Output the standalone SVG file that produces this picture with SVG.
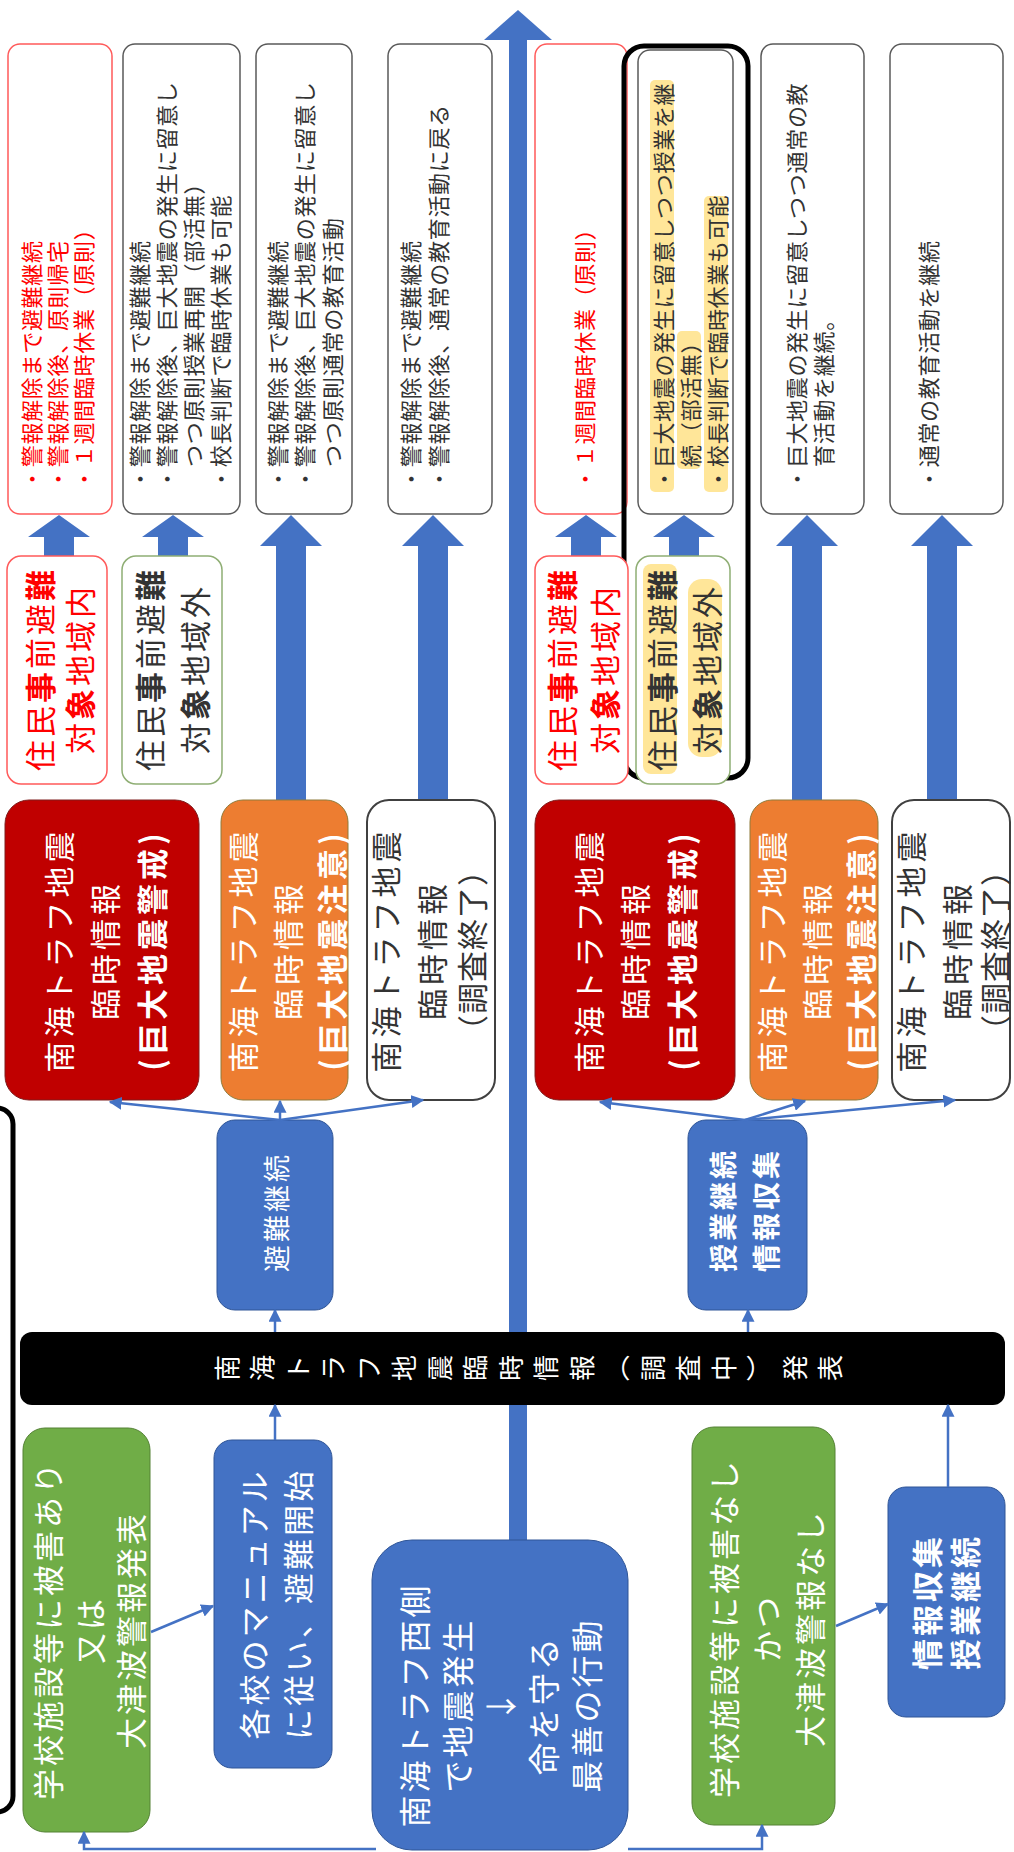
<svg xmlns="http://www.w3.org/2000/svg" width="1014" height="1852" viewBox="0 0 1014 1852">
<defs>
<style>
text { font-family: "Noto Sans CJK JP", "Noto Sans CJK SC", sans-serif; dominant-baseline: central; }
.s { font-size: 22px; letter-spacing: 0.7px; }
.m { font-size: 31px; letter-spacing: 3px; text-anchor: middle; }
.l { font-size: 31px; letter-spacing: 3px; text-anchor: middle; }
.l4 { font-size: 31px; letter-spacing: 4px; text-anchor: middle; }
.w { fill: #ffffff; }
.r { fill: #ff0000; }
.d { fill: #333333; }
.b { font-weight: bold; }
.box { fill: #ffffff; stroke: #595959; stroke-width: 1.5; }
.boxr { fill: #ffffff; stroke: #ff5a5a; stroke-width: 1.5; }
.boxg { fill: #ffffff; stroke: #8fae74; stroke-width: 1.5; }
.blue { fill: #4472c4; stroke: #2f5597; stroke-width: 1; }
.green { fill: #70ad47; stroke: #548235; stroke-width: 1; }
.red { fill: #c00000; stroke: #7f1d1d; stroke-width: 1; }
.orange { fill: #ed7d31; stroke: #8f7a3a; stroke-width: 1; }
.white { fill: #ffffff; stroke: #404040; stroke-width: 2; }
.barw { fill: #4472c4; }
.hl { fill: #ffe699; }
.con { fill: none; stroke: #4472c4; stroke-width: 2.5; marker-end: url(#ah); }
</style>
<marker id="ah" viewBox="0 0 10 10" refX="9" refY="5" markerWidth="13" markerHeight="13" markerUnits="userSpaceOnUse" orient="auto"><path d="M0,0 L10,5 L0,10 z" fill="#4472c4"/></marker>
</defs>
<rect width="1014" height="1852" fill="#ffffff"/>
<g transform="matrix(0,-1,1,0,0,1852)">

<!-- main arrow -->
<g id="main-arrow">
<rect x="312" y="509" width="1504" height="18" class="barw"/>
<polygon points="1812,484 1842,518 1812,552" class="barw"/>
</g>

<!-- top row result boxes -->
<g id="resA">
<rect x="1338" y="8" width="470" height="104" rx="12" class="boxr"/>
<text class="s r"><tspan x="1362" y="30">・警報解除まで避難継続</tspan><tspan x="1362" y="56">・警報解除後、原則帰宅</tspan><tspan x="1362" y="82">・１週間臨時休業（原則）</tspan></text>
</g>
<g id="resB">
<rect x="1338" y="123" width="470" height="117" rx="12" class="box"/>
<text class="s d"><tspan x="1362" y="138">・警報解除まで避難継続</tspan><tspan x="1362" y="165">・警報解除後、巨大地震の発生に留意し</tspan><tspan x="1385" y="192">つつ原則授業再開（部活無）</tspan><tspan x="1362" y="219">・校長判断で臨時休業も可能</tspan></text>
</g>
<g id="resC">
<rect x="1338" y="256" width="470" height="96" rx="12" class="box"/>
<text class="s d"><tspan x="1362" y="276">・警報解除まで避難継続</tspan><tspan x="1362" y="303">・警報解除後、巨大地震の発生に留意し</tspan><tspan x="1385" y="331">つつ原則通常の教育活動</tspan></text>
</g>
<g id="resD">
<rect x="1338" y="388" width="470" height="104" rx="12" class="box"/>
<text class="s d"><tspan x="1362" y="409">・警報解除まで避難継続</tspan><tspan x="1362" y="437">・警報解除後、通常の教育活動に戻る</tspan></text>
</g>
<g id="resE">
<rect x="1338" y="535" width="470" height="92" rx="12" class="boxr"/>
<text class="s r"><tspan x="1362" y="583">・１週間臨時休業（原則）</tspan></text>
</g>
<g id="resF">
<rect x="1074" y="624" width="732" height="124" rx="20" fill="none" stroke="#000000" stroke-width="5"/>
<rect x="1338" y="638" width="464" height="95" rx="12" class="box"/>
<rect x="1360" y="650" width="412" height="24" rx="5" class="hl"/>
<rect x="1383" y="677" width="138" height="24" rx="5" class="hl"/>
<rect x="1360" y="704" width="296" height="24" rx="5" class="hl"/>
<text class="s d"><tspan x="1362" y="662">・巨大地震の発生に留意しつつ授業を継</tspan><tspan x="1385" y="689">続（部活無）</tspan><tspan x="1362" y="716">・校長判断で臨時休業も可能</tspan></text>
</g>
<g id="resG">
<rect x="1338" y="761" width="470" height="103" rx="12" class="box"/>
<text class="s d"><tspan x="1362" y="795">・巨大地震の発生に留意しつつ通常の教</tspan><tspan x="1385" y="822">育活動を継続。</tspan></text>
</g>
<g id="resH">
<rect x="1338" y="890" width="470" height="113" rx="12" class="box"/>
<text class="s d"><tspan x="1362" y="927">・通常の教育活動を継続</tspan></text>
</g>

<!-- block arrows -->
<g id="block-arrows" class="barw">
<polygon points="1296,44 1315,44 1315,28 1337,59 1315,90 1315,74 1296,74"/>
<polygon points="1296,158 1315,158 1315,142 1337,173 1315,204 1315,188 1296,188"/>
<polygon points="1296,571 1315,571 1315,555 1337,586 1315,617 1315,601 1296,601"/>
<polygon points="1296,669 1315,669 1315,653 1337,684 1315,715 1315,699 1296,699"/>
<polygon points="1052,276 1306,276 1306,260 1337,291 1306,322 1306,306 1052,306"/>
<polygon points="1052,418 1306,418 1306,402 1337,433 1306,464 1306,448 1052,448"/>
<polygon points="1052,792 1306,792 1306,776 1337,807 1306,838 1306,822 1052,822"/>
<polygon points="1052,927 1306,927 1306,911 1337,942 1306,973 1306,957 1052,957"/>
</g>

<!-- row 2: resident evacuation area -->
<g id="areaA">
<rect x="1068" y="7" width="228" height="100" rx="14" class="boxr"/>
<text class="m r"><tspan x="1183" y="38">住民<tspan class="b">事</tspan>前避<tspan class="b">難</tspan></tspan><tspan x="1183" y="78">対<tspan class="b">象</tspan>地域内</tspan></text>
</g>
<g id="areaB">
<rect x="1068" y="122" width="228" height="100" rx="14" class="boxg"/>
<text class="m d"><tspan x="1183" y="148">住民<tspan class="b">事</tspan>前避<tspan class="b">難</tspan></tspan><tspan x="1183" y="193">対<tspan class="b">象</tspan>地域外</tspan></text>
</g>
<g id="areaE">
<rect x="1068" y="535" width="228" height="93" rx="14" class="boxr"/>
<text class="m r"><tspan x="1183" y="560">住民<tspan class="b">事</tspan>前避<tspan class="b">難</tspan></tspan><tspan x="1183" y="603">対<tspan class="b">象</tspan>地域内</tspan></text>
</g>
<g id="areaF">
<rect x="1068" y="636" width="228" height="94" rx="14" class="boxg"/>
<rect x="1078" y="643" width="210" height="34" rx="8" class="hl"/>
<rect x="1095" y="688" width="178" height="34" rx="14" class="hl"/>
<text class="m d"><tspan x="1183" y="660">住民<tspan class="b">事</tspan>前避<tspan class="b">難</tspan></tspan><tspan x="1183" y="705">対<tspan class="b">象</tspan>地域外</tspan></text>
</g>

<!-- row 3: information boxes -->
<g id="infoRed1">
<rect x="752" y="5" width="300" height="194" rx="24" class="red"/>
<text class="l4 w"><tspan x="902" y="57">南海トラフ地震</tspan><tspan x="902" y="103">臨時情報</tspan><tspan x="902" y="150" class="b">(巨大地震警戒)</tspan></text>
</g>
<g id="infoOrange1">
<rect x="752" y="221" width="300" height="127" rx="22" class="orange"/>
<text class="l4 w"><tspan x="902" y="241">南海トラフ地震</tspan><tspan x="902" y="286">臨時情報</tspan><tspan x="902" y="330" class="b">(巨大地震注意)</tspan></text>
</g>
<g id="infoWhite1">
<rect x="752" y="367" width="300" height="128" rx="22" class="white"/>
<text class="l4 d"><tspan x="902" y="384">南海トラフ地震</tspan><tspan x="902" y="430">臨時情報</tspan><tspan x="902" y="470" style="letter-spacing:1px">（調査終了）</tspan></text>
</g>
<g id="infoRed2">
<rect x="752" y="535" width="300" height="200" rx="24" class="red"/>
<text class="l4 w"><tspan x="902" y="587">南海トラフ地震</tspan><tspan x="902" y="633">臨時情報</tspan><tspan x="902" y="680" class="b">(巨大地震警戒)</tspan></text>
</g>
<g id="infoOrange2">
<rect x="752" y="750" width="300" height="128" rx="22" class="orange"/>
<text class="l4 w"><tspan x="902" y="770">南海トラフ地震</tspan><tspan x="902" y="815">臨時情報</tspan><tspan x="902" y="859" class="b">(巨大地震注意)</tspan></text>
</g>
<g id="infoWhite2">
<rect x="752" y="892" width="300" height="118" rx="22" class="white"/>
<text class="l4 d"><tspan x="902" y="909">南海トラフ地震</tspan><tspan x="902" y="955">臨時情報</tspan><tspan x="902" y="993" style="letter-spacing:1px">（調査終了）</tspan></text>
</g>

<!-- announcement bar -->
<g id="announce">
<rect x="447" y="20" width="73" height="985" rx="12" fill="#000000"/>
<text style="font-size:26px; text-anchor:middle" class="w"><tspan x="484" y="225">南</tspan><tspan x="484" y="260">海</tspan><tspan x="484" y="296">ト</tspan><tspan x="484" y="331">ラ</tspan><tspan x="484" y="367">フ</tspan><tspan x="484" y="402">地</tspan><tspan x="484" y="438">震</tspan><tspan x="484" y="473">臨</tspan><tspan x="484" y="509">時</tspan><tspan x="484" y="544">情</tspan><tspan x="484" y="580">報</tspan><tspan x="484" y="615">︵</tspan><tspan x="484" y="651">調</tspan><tspan x="484" y="686">査</tspan><tspan x="484" y="722">中</tspan><tspan x="484" y="757">︶</tspan><tspan x="484" y="793">発</tspan><tspan x="484" y="828">表</tspan></text>
</g>

<!-- action boxes -->
<g id="evacContinue">
<rect x="542" y="217" width="190" height="116" rx="18" class="blue"/>
<text class="w" style="font-size:27px; letter-spacing:3px; text-anchor:middle"><tspan x="640" y="275">避難継続</tspan></text>
</g>
<g id="classContinue">
<rect x="542" y="688" width="190" height="119" rx="18" class="blue"/>
<text class="w b" style="font-size:28px; letter-spacing:3px; text-anchor:middle"><tspan x="642" y="722">授業継続</tspan><tspan x="642" y="765">情報収集</tspan></text>
</g>
<g id="manual">
<rect x="84" y="214" width="328" height="118" rx="18" class="blue"/>
<text class="l w"><tspan x="248" y="252">各校のマニュアル</tspan><tspan x="248" y="296">に従い、避難開始</tspan></text>
</g>
<g id="damageYes">
<rect x="20" y="23" width="404" height="127" rx="22" class="green"/>
<text class="l w"><tspan x="222" y="46">学校施設等に被害あり</tspan><tspan x="222" y="88">又は</tspan><tspan x="222" y="129">大津波警報発表</tspan></text>
</g>
<g id="quake">
<rect x="2" y="372" width="310" height="256" rx="40" class="blue"/>
<text class="l w" style="font-size:32px"><tspan x="147" y="413">南海トラフ西側</tspan><tspan x="147" y="456">で地震発生</tspan><tspan x="147" y="499">↓</tspan><tspan x="147" y="542">命を守る</tspan><tspan x="147" y="585">最善の行動</tspan></text>
</g>
<g id="damageNo">
<rect x="27" y="692" width="398" height="143" rx="22" class="green"/>
<text class="l w"><tspan x="224" y="722">学校施設等に被害なし</tspan><tspan x="224" y="765">かつ</tspan><tspan x="224" y="808">大津波警報なし</tspan></text>
</g>
<g id="infoCollect">
<rect x="135" y="888" width="230" height="117" rx="18" class="blue"/>
<text class="l w b"><tspan x="250" y="925">情報収集</tspan><tspan x="250" y="963">授業継続</tspan></text>
</g>

<!-- bracket -->
<g id="bracket">
<rect x="40" y="-60" width="704" height="73" rx="16" fill="none" stroke="#000000" stroke-width="5"/>
</g>

<!-- connectors -->
<g id="connectors">
<path class="con" d="M732,280 L750,110"/>
<path class="con" d="M732,280 L751,280"/>
<path class="con" d="M732,280 L752,423"/>
<path class="con" d="M732,745 L750,600"/>
<path class="con" d="M732,745 L751,805"/>
<path class="con" d="M732,745 L752,955"/>
<path class="con" d="M520,275 L542,275"/>
<path class="con" d="M520,748 L542,748"/>
<path class="con" d="M412,275 L447,275"/>
<path class="con" d="M365,948 L447,948"/>
<path class="con" d="M220,151 L246,213"/>
<path class="con" d="M226,836 L248,888"/>
<path class="con" d="M3,376 L3,84 L20,84"/>
<path class="con" d="M3,628 L3,762 L27,762"/>
</g>
</g>
</svg>
